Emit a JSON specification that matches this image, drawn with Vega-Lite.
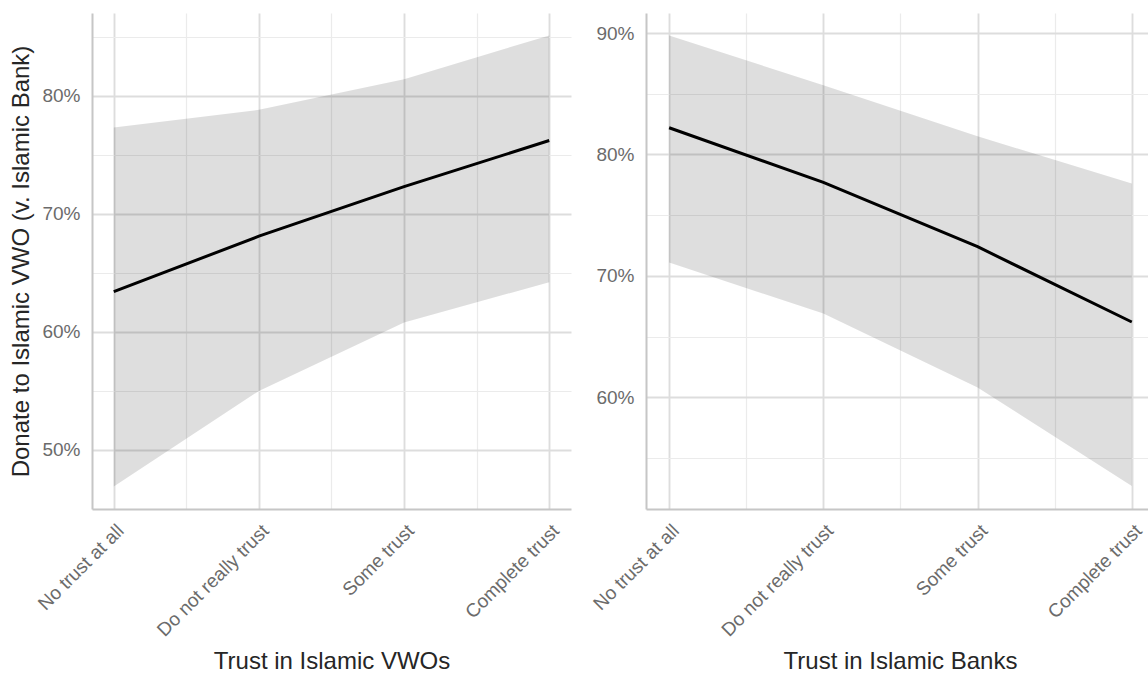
{
  "$schema": "https://vega.github.io/schema/vega-lite/v6.json",
  "padding": {"left": 9, "top": 13, "right": 0, "bottom": 0},
  "background": "white",
  "spacing": 18,
  "config": {
    "font": "Liberation Sans",
    "view": {"stroke": null},
    "axis": {
      "labelFont": "Liberation Sans",
      "labelFontSize": 19,
      "labelColor": "#6b6b6b",
      "labelPadding": 12,
      "labelOverlap": false,
      "labelFlush": false,
      "titleFont": "Liberation Sans",
      "titleFontSize": 24,
      "titleFontWeight": "normal",
      "titleColor": "#262626",
      "ticks": false,
      "domainColor": "#c6c6c6",
      "domainWidth": 2,
      "grid": true
    }
  },
  "hconcat": [
    {
      "width": 479,
      "height": 496,
      "data": {
        "values": [
          {"trust": 1, "level": "No trust at all", "estimate": 0.634, "lower": 0.469, "upper": 0.773},
          {"trust": 2, "level": "Do not really trust", "estimate": 0.681, "lower": 0.550, "upper": 0.788},
          {"trust": 3, "level": "Some trust", "estimate": 0.723, "lower": 0.608, "upper": 0.814},
          {"trust": 4, "level": "Complete trust", "estimate": 0.762, "lower": 0.642, "upper": 0.851}
        ]
      },
      "encoding": {
        "x": {
          "field": "trust",
          "type": "quantitative",
          "title": "Trust in Islamic VWOs",
          "scale": {"domain": [0.85, 4.15], "nice": false, "zero": false},
          "axis": {
            "values": [1, 1.5, 2, 2.5, 3, 3.5, 4],
            "labelAngle": -45,
            "labelAlign": "right",
            "labelBaseline": "top",
            "labelExpr": "round(datum.value) == datum.value ? ['', 'No trust at all', 'Do not really trust', 'Some trust', 'Complete trust'][datum.value] : ''",
            "titlePadding": 10,
            "gridColor": {"condition": {"test": "datum.value % 1 != 0", "value": "#ebebeb"}, "value": "#dddddd"},
            "gridWidth": {"condition": {"test": "datum.value % 1 != 0", "value": 1.2}, "value": 1.9}
          }
        }
      },
      "layer": [
        {
          "mark": {"type": "area", "color": "#000000", "opacity": 0.13},
          "encoding": {
            "y": {
              "field": "lower",
              "type": "quantitative",
              "title": "Donate to Islamic VWO (v. Islamic Bank)",
              "scale": {"domain": [0.45, 0.87], "nice": false, "zero": false},
              "axis": {
                "values": [0.5, 0.55, 0.6, 0.65, 0.7, 0.75, 0.8, 0.85],
                "labelExpr": "round(datum.value * 100) % 10 == 0 ? format(datum.value, '.0%') : ''",
                "titlePadding": 8,
                "gridColor": {"condition": {"test": "round(datum.value * 100) % 10 != 0", "value": "#ebebeb"}, "value": "#dddddd"},
                "gridWidth": {"condition": {"test": "round(datum.value * 100) % 10 != 0", "value": 1.2}, "value": 1.9}
              }
            },
            "y2": {"field": "upper"}
          }
        },
        {
          "mark": {"type": "line", "color": "#000000", "strokeWidth": 3},
          "encoding": {
            "y": {"field": "estimate", "type": "quantitative"}
          }
        }
      ]
    },
    {
      "width": 502,
      "height": 496,
      "data": {
        "values": [
          {"trust": 1, "level": "No trust at all", "estimate": 0.822, "lower": 0.711, "upper": 0.898},
          {"trust": 2, "level": "Do not really trust", "estimate": 0.777, "lower": 0.669, "upper": 0.857},
          {"trust": 3, "level": "Some trust", "estimate": 0.724, "lower": 0.608, "upper": 0.815},
          {"trust": 4, "level": "Complete trust", "estimate": 0.662, "lower": 0.527, "upper": 0.776}
        ]
      },
      "encoding": {
        "x": {
          "field": "trust",
          "type": "quantitative",
          "title": "Trust in Islamic Banks",
          "scale": {"domain": [0.85, 4.105], "nice": false, "zero": false},
          "axis": {
            "values": [1, 1.5, 2, 2.5, 3, 3.5, 4],
            "labelAngle": -45,
            "labelAlign": "right",
            "labelBaseline": "top",
            "labelExpr": "round(datum.value) == datum.value ? ['', 'No trust at all', 'Do not really trust', 'Some trust', 'Complete trust'][datum.value] : ''",
            "titlePadding": 10,
            "titleX": 254,
            "gridColor": {"condition": {"test": "datum.value % 1 != 0", "value": "#ebebeb"}, "value": "#dddddd"},
            "gridWidth": {"condition": {"test": "datum.value % 1 != 0", "value": 1.2}, "value": 1.9}
          }
        }
      },
      "layer": [
        {
          "mark": {"type": "area", "color": "#000000", "opacity": 0.13},
          "encoding": {
            "y": {
              "field": "lower",
              "type": "quantitative",
              "title": null,
              "scale": {"domain": [0.508, 0.9165], "nice": false, "zero": false},
              "axis": {
                "values": [0.55, 0.6, 0.65, 0.7, 0.75, 0.8, 0.85, 0.9],
                "labelExpr": "round(datum.value * 100) % 10 == 0 ? format(datum.value, '.0%') : ''",
                "gridColor": {"condition": {"test": "round(datum.value * 100) % 10 != 0", "value": "#ebebeb"}, "value": "#dddddd"},
                "gridWidth": {"condition": {"test": "round(datum.value * 100) % 10 != 0", "value": 1.2}, "value": 1.9}
              }
            },
            "y2": {"field": "upper"}
          }
        },
        {
          "mark": {"type": "line", "color": "#000000", "strokeWidth": 3},
          "encoding": {
            "y": {"field": "estimate", "type": "quantitative"}
          }
        }
      ]
    }
  ]
}
